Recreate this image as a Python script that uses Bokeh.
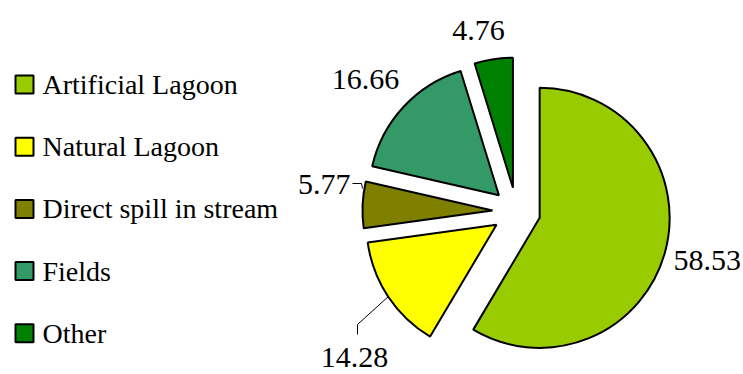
import math
from bokeh.plotting import figure
from bokeh.models import Range1d, ColumnDataSource
from bokeh.core.properties import value
from bokeh.embed import file_html
from bokeh.resources import INLINE

# ---- data ----
categories = ["Artificial Lagoon", "Natural Lagoon", "Direct spill in stream", "Fields", "Other"]
values = [58.53, 14.28, 5.77, 16.66, 4.76]
colors = ["#99CC00", "#FFFF00", "#808000", "#339966", "#008000"]

# ---- layout (screen pixels, y down) ----
W, H = 743, 374
def sy(y):
    return H - y

CX, CY = 516, sy(211)      # pie centre
R = 130                    # radius
D = 24                     # explosion distance
FONT = "Times New Roman"

p = figure(width=W, height=H, output_backend="svg", toolbar_location=None,
           x_range=Range1d(0, W), y_range=Range1d(0, H), min_border=0)
p.axis.visible = False
p.grid.visible = False
p.outline_line_color = None
p.background_fill_color = "white"

total = sum(values)
xs, ys, starts, ends, mids = [], [], [], [], []
cum = 0.0
for v in values:
    a_hi = math.pi / 2 - 2 * math.pi * cum / total
    cum += v
    a_lo = math.pi / 2 - 2 * math.pi * cum / total
    mid = (a_hi + a_lo) / 2
    starts.append(a_lo)
    ends.append(a_hi)
    mids.append(mid)
    xs.append(CX + D * math.cos(mid))
    ys.append(CY + D * math.sin(mid))

src = ColumnDataSource(dict(x=xs, y=ys, start=starts, end=ends, color=colors, cat=categories))
p.wedge(x="x", y="y", radius=R, start_angle="start", end_angle="end",
        fill_color="color", line_color="black", line_width=2, source=src)

# ---- data labels (x, visual middle y, align) ----
label_pos = [(673, 260, "left"), (354, 357, "center"), (350, 184, "right"),
             (365, 79, "center"), (478, 30, "center")]
for v, (lx, ly, al) in zip(values, label_pos):
    p.text(x=[lx], y=[sy(ly)], text=[f"{v:.2f}"], text_font=value(FONT),
           text_font_size="30px", text_align=al, text_baseline="middle",
           text_color="black")

# leader lines
i = 1
ax = xs[i] + R * math.cos(mids[i])
ay = ys[i] + R * math.sin(mids[i])
p.line(x=[ax, 357, 357], y=[ay, sy(324), sy(334)], line_color="black", line_width=1)
p.line(x=[352, 361, 362], y=[sy(183), sy(183), sy(188)], line_color="black", line_width=1)

# ---- legend ----
LX_SQ, LX_TXT, LY0, LDY, SQ = 24, 42, 84, 62.2, 18
for k, (c, col) in enumerate(zip(categories, colors)):
    yc = LY0 + k * LDY
    p.rect(x=[LX_SQ], y=[sy(yc)], width=SQ, height=SQ,
           fill_color=col, line_color="black", line_width=2)
    p.text(x=[LX_TXT], y=[sy(yc)], text=[c], text_font=value(FONT),
           text_font_size="28px", text_align="left", text_baseline="middle",
           text_color="black")

open("out.html", "w").write(file_html(p, INLINE))
